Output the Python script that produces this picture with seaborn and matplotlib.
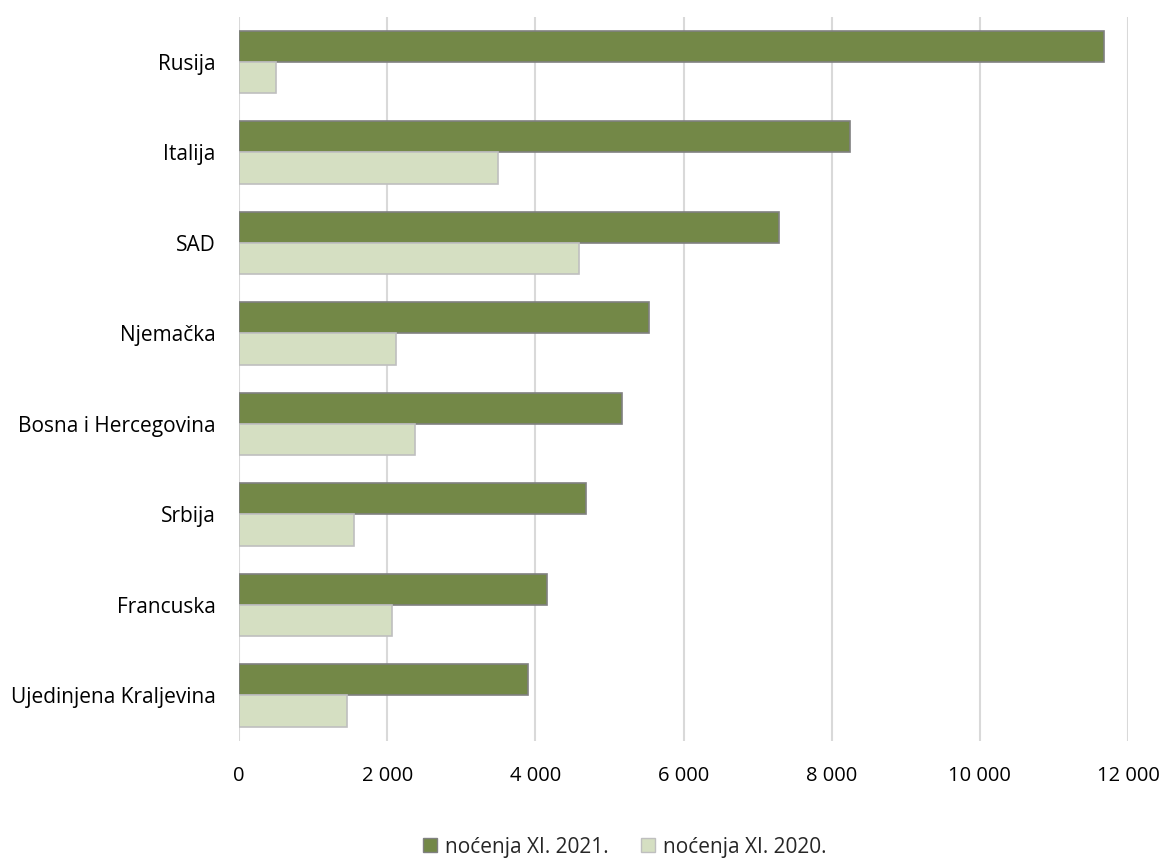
import pandas as pd
import matplotlib
matplotlib.use('Agg')
import matplotlib.pyplot as plt
from matplotlib.ticker import FuncFormatter
import seaborn as sns

# podaci očitani s grafikona
zemlje = ['Rusija', 'Italija', 'SAD', 'Njemačka', 'Bosna i Hercegovina',
          'Srbija', 'Francuska', 'Ujedinjena Kraljevina']
nocenja_2021 = [11677, 8248, 7286, 5539, 5170, 4684, 4158, 3897]
nocenja_2020 = [500, 3496, 4590, 2115, 2376, 1552, 2065, 1458]
serije = ['noćenja XI. 2021.', 'noćenja XI. 2020.']

df = pd.concat([
    pd.DataFrame({'zemlja': zemlje, 'nocenja': nocenja_2021, 'serija': serije[0]}),
    pd.DataFrame({'zemlja': zemlje, 'nocenja': nocenja_2020, 'serija': serije[1]}),
], ignore_index=True)

sns.set_style('white')
plt.rcParams['font.family'] = ['Open Sans', 'DejaVu Sans']

fig = plt.figure(figsize=(11.67, 8.59), dpi=100)
ax = fig.add_axes([0.2048, 0.1377, 0.7618, 0.8428])

boje = {serije[0]: '#77933C', serije[1]: '#D7E4BD'}
sns.barplot(data=df, y='zemlja', x='nocenja', hue='serija', palette=boje,
            orient='h', width=0.686, gap=0, ax=ax, zorder=3)

# rubovi stupaca
rubovi = ['#808080', '#BFBFBF']
for cont, rub in zip(ax.containers, rubovi):
    for bar in cont:
        bar.set_edgecolor(rub)
        bar.set_linewidth(1.2)

ax.set_xlim(0, 12000)
ax.set_xticks(range(0, 12001, 2000))
ax.xaxis.set_major_formatter(FuncFormatter(lambda v, p: f'{v:,.0f}'.replace(',', ' ')))
ax.grid(axis='x', color='#D9D9D9', linewidth=1.5, zorder=0)
ax.set_axisbelow(True)
for s in ax.spines.values():
    s.set_visible(False)

ax.tick_params(axis='x', length=0, pad=18.5, labelsize=14.5, labelcolor='#000000')
ax.tick_params(axis='y', length=0, pad=17, labelsize=15, labelcolor='#000000')
ax.set_xlabel('')
ax.set_ylabel('')

leg = ax.legend(loc='center', bbox_to_anchor=(0.434, -0.147), ncol=2, frameon=False,
                fontsize=15, handlelength=0.65, handleheight=0.65, handletextpad=0.4,
                columnspacing=1.55, borderaxespad=0, borderpad=0)
for h, rub in zip(leg.legend_handles, rubovi):
    h.set_edgecolor(rub)

fig.savefig('out.png', dpi=100)
